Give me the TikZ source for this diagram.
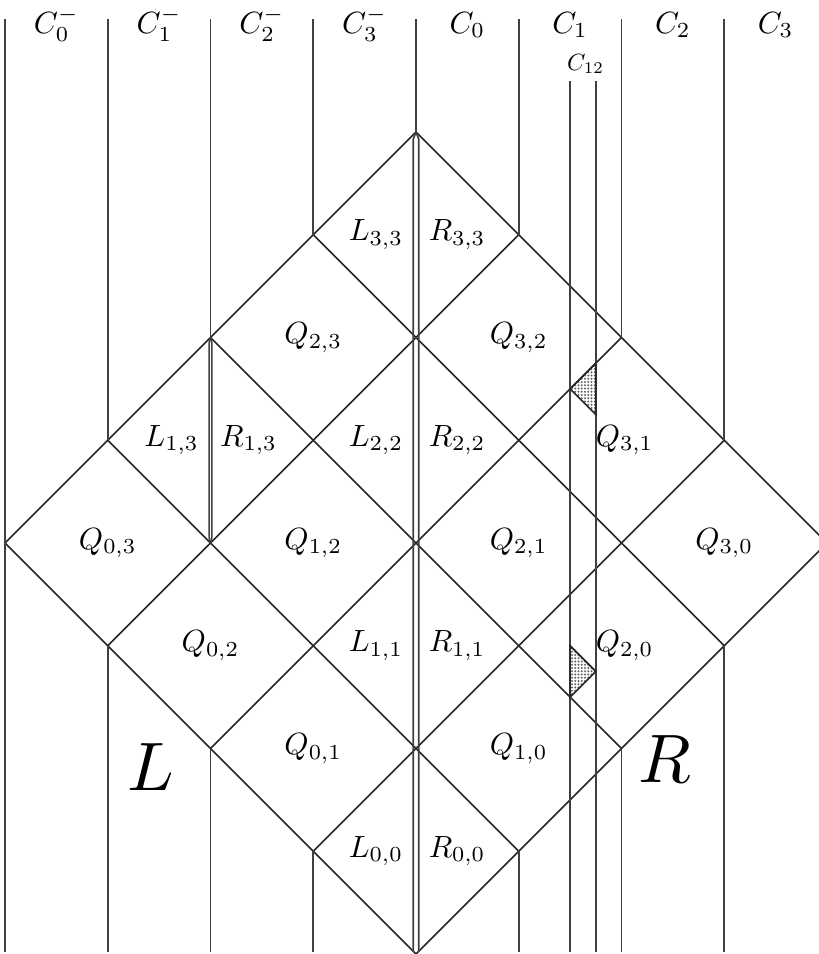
\documentclass[tikz,border=0pt]{standalone}
\usetikzlibrary{patterns}
\pgfdeclarepatternformonly{finedots}{\pgfqpoint{-0.5pt}{-0.5pt}}{\pgfqpoint{0.5pt}{0.5pt}}{\pgfqpoint{0.9pt}{0.9pt}}{%
  \pgfpathcircle{\pgfqpoint{0pt}{0pt}}{0.28pt}\pgfusepath{fill}}
\begin{document}
\begin{tikzpicture}[x=1cm,y=1cm,
  gridline/.style={draw=black!85, line width=0.45pt},
  cline/.style={draw=black!75, line width=0.45pt},
  lab/.style={inner sep=0pt, scale=0.85},
  toplab/.style={inner sep=0pt, anchor=base, scale=0.85},
  smalllab/.style={inner sep=0pt, anchor=base, scale=0.65},
  biglab/.style={inner sep=0pt, anchor=base, scale=1.9},
  shadetri/.style={pattern=finedots, pattern color=black!60, draw=black!85, line width=0.45pt}]
\useasboundingbox (-4.049,-4.0) rectangle (3.922,5.285);
\clip (-4.049,-4.0) rectangle (3.922,5.285);
% diamond grid
\foreach \c in {-4,-2,0,2,4} {
  \draw[gridline] ({(\c+4)/2},{(\c-4)/2}) -- ({(\c-4)/2},{(\c+4)/2});
  \draw[gridline] ({(-4-\c)/2},{(-4+\c)/2}) -- ({(4-\c)/2},{(4+\c)/2});
}
% vertical lines C
\draw[cline] (-4,5.1) -- (-4,-3.98);
\foreach \x/\h in {-3/1,-2/2,-1/3,1/3,2/2,3/1} {
  \draw[cline] (\x,5.1) -- (\x,\h);
  \draw[cline] (\x,-\h) -- (\x,-3.98);
}
% central double line
\coordinate (top) at (0,4);
\draw[cline] (0,5.1) -- (top);
\draw[cline] (top) -- (-0.027,3.93) -- (-0.027,-3.98);
\draw[cline] (top) -- (0.027,3.93) -- (0.027,-3.98);
% double line splitting Q_{1,3}
\coordinate (s1) at (-2,2);
\coordinate (s2) at (-2,0);
\draw[cline] (s1) -- (-2.013,1.95) -- (-2.013,0.05) -- (s2);
\draw[cline] (s1) -- (-1.987,1.95) -- (-1.987,0.05) -- (s2);
% C12 lines
\draw[cline] (1.5,4.5) -- (1.5,-3.98);
\draw[cline] (1.75,4.5) -- (1.75,-3.98);
% shaded triangles
\draw[shadetri] (1.5,1.5) -- (1.75,1.75) -- (1.75,1.25) -- cycle;
\draw[shadetri] (1.5,-1) -- (1.75,-1.25) -- (1.5,-1.5) -- cycle;
% top labels
\node[toplab] (c0m) at (-3.5,4.96) {$C_0^-$};
\node[toplab] (c1m) at (-2.5,4.96) {$C_1^-$};
\node[toplab] (c2m) at (-1.5,4.96) {$C_2^-$};
\node[toplab] (c3m) at (-0.5,4.96) {$C_3^-$};
\node[toplab] (c0) at (0.5,4.96) {$C_0$};
\node[toplab] (c1) at (1.5,4.96) {$C_1$};
\node[toplab] (c2) at (2.5,4.96) {$C_2$};
\node[toplab] (c3) at (3.5,4.96) {$C_3$};
\node[smalllab] (c12) at (1.65,4.60) {$C_{12}$};
% Q labels
\node[lab] (q03) at (-3,0) {$Q_{0,3}$};
\node[lab] (q02) at (-2,-1) {$Q_{0,2}$};
\node[lab] (q01) at (-1,-2) {$Q_{0,1}$};
\node[lab] (q12) at (-1,0) {$Q_{1,2}$};
\node[lab] (q23) at (-1,2) {$Q_{2,3}$};
\node[lab] (q32) at (1,2) {$Q_{3,2}$};
\node[lab] (q21) at (1,0) {$Q_{2,1}$};
\node[lab] (q10) at (1,-2) {$Q_{1,0}$};
\node[lab] (q31) at (2.03,1) {$Q_{3,1}$};
\node[lab] (q20) at (2.03,-1) {$Q_{2,0}$};
\node[lab] (q30) at (3,0) {$Q_{3,0}$};
% L R labels
\node[lab] (l33) at (-0.39,3) {$L_{3,3}$};
\node[lab] (r33) at (0.40,3) {$R_{3,3}$};
\node[lab] (l22) at (-0.39,1) {$L_{2,2}$};
\node[lab] (r22) at (0.40,1) {$R_{2,2}$};
\node[lab] (l11) at (-0.39,-1) {$L_{1,1}$};
\node[lab] (r11) at (0.40,-1) {$R_{1,1}$};
\node[lab] (l00) at (-0.39,-3) {$L_{0,0}$};
\node[lab] (r00) at (0.40,-3) {$R_{0,0}$};
\node[lab] (l13) at (-2.38,1) {$L_{1,3}$};
\node[lab] (r13) at (-1.63,1) {$R_{1,3}$};
% big labels
\node[biglab] (bigL) at (-2.58,-2.41) {$L$};
\node[biglab] (bigR) at (2.42,-2.33) {$R$};
\end{tikzpicture}
\end{document}
